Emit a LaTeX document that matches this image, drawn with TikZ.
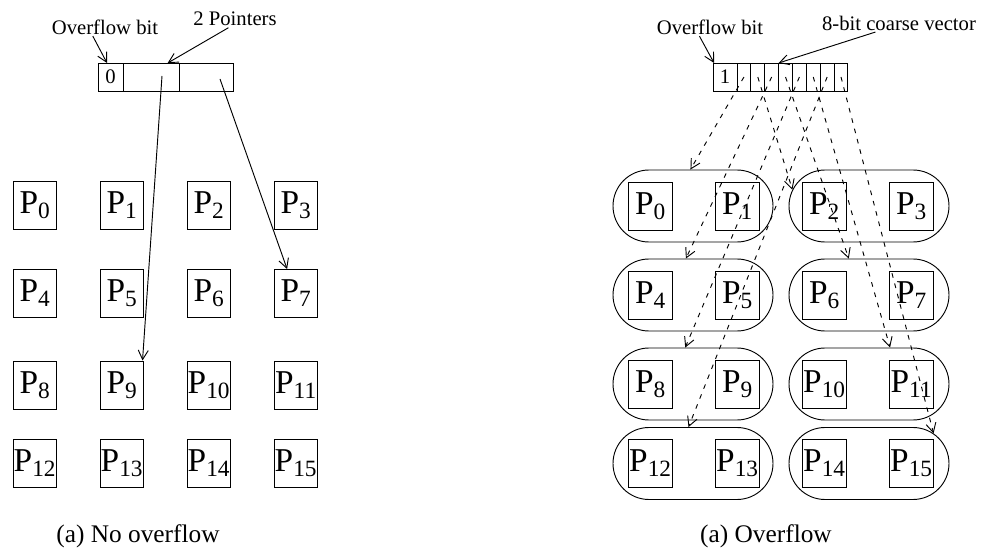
\documentclass[tikz,border=0pt]{standalone}
\usepackage{fontspec}
\setmainfont{Liberation Serif}
\usetikzlibrary{positioning,shapes.misc,arrows.meta}

\begin{document}
\begin{tikzpicture}[x=0.75pt,y=-0.75pt,line width=0.7pt,
  proc/.style={draw, inner sep=0pt, minimum width=32.5pt, minimum height=36pt, font=\fontsize{25}{28}\selectfont},
  grp/.style={draw, rounded rectangle, minimum width=120pt, minimum height=54pt, inner sep=0pt},
  cell/.style={draw, inner sep=0pt, outer sep=0pt, minimum height=21pt, font=\fontsize{15.5}{18}\selectfont},
  lbl/.style={font=\fontsize{15.5}{18}\selectfont, inner sep=1pt},
  captxt/.style={font=\fontsize{19}{22}\selectfont, inner sep=1pt},
  ptr/.style={-{Straight Barb[length=7pt,width=7.5pt]}},
  vecptr/.style={ptr, dash pattern=on 3.5pt off 4.5pt}]
\useasboundingbox (0,0) rectangle (986,552);
% left: no overflow
\node[lbl] (lof) at (105,27) {Overflow bit};
\node[lbl] (lpt) at (235,19) {2 Pointers};
\node[cell, minimum width=18.75pt] (o0) at (110.5,77) {0};
\node[cell, minimum width=42pt, right=0pt of o0] (o1) {};
\node[cell, minimum width=40.5pt, right=0pt of o1] (o2) {};
\node[proc] (p0) at (35,205) {P\textsubscript{0}};
\node[proc] (p1) at (122,205) {P\textsubscript{1}};
\node[proc] (p2) at (209,205) {P\textsubscript{2}};
\node[proc] (p3) at (296,205) {P\textsubscript{3}};
\node[proc] (p4) at (35,293.5) {P\textsubscript{4}};
\node[proc] (p5) at (122,293.5) {P\textsubscript{5}};
\node[proc] (p6) at (209,293.5) {P\textsubscript{6}};
\node[proc] (p7) at (296,293.5) {P\textsubscript{7}};
\node[proc] (p8) at (35,385) {P\textsubscript{8}};
\node[proc] (p9) at (122,385) {P\textsubscript{9}};
\node[proc] (p10) at (209,385) {P\textsubscript{10}};
\node[proc] (p11) at (296,385) {P\textsubscript{11}};
\node[proc] (p12) at (35,463) {P\textsubscript{12}};
\node[proc] (p13) at (122,463) {P\textsubscript{13}};
\node[proc] (p14) at (209,463) {P\textsubscript{14}};
\node[proc] (p15) at (296,463) {P\textsubscript{15}};
\coordinate (a1) at (162,76);
\coordinate (a2) at (220,79);
\draw[ptr] (lof.-143) -- (o0.104);
\draw[ptr] (lpt.-127) -- (o1.40);
\draw[ptr] (a1) -- (p9.50);
\draw[ptr] (a2) -- (p7.110);
\node[captxt] (capl) at (138,536) {(a) No overflow};
% right: overflow, coarse vector
\node[lbl] (rof) at (710,27) {Overflow bit};
\node[lbl] (rcv) at (899,23) {8-bit coarse vector};
\node[cell, minimum width=18pt] (r0) at (725,77) {1};
\node[cell, minimum width=10.4pt, right=0pt of r0] (v1) {};
\node[cell, minimum width=10.4pt, right=0pt of v1] (v2) {};
\node[cell, minimum width=10.4pt, right=0pt of v2] (v3) {};
\node[cell, minimum width=10.4pt, right=0pt of v3] (v4) {};
\node[cell, minimum width=10.4pt, right=0pt of v4] (v5) {};
\node[cell, minimum width=10.4pt, right=0pt of v5] (v6) {};
\node[cell, minimum width=10.4pt, right=0pt of v6] (v7) {};
\node[cell, minimum width=10.4pt, right=0pt of v7] (v8) {};
\node[grp] (g0) at (693,206) {};
\node[grp] (g1) at (869,206) {};
\node[grp] (g2) at (693,295) {};
\node[grp] (g3) at (869,295) {};
\node[grp] (g4) at (693,384) {};
\node[grp] (g5) at (869,384) {};
\node[grp] (g6) at (693,463.5) {};
\node[grp] (g7) at (869,463.5) {};
\node[proc] (q0) at (650.5,206) {P\textsubscript{0}};
\node[proc] (q1) at (737.5,206) {P\textsubscript{1}};
\node[proc] (q2) at (824.5,206) {P\textsubscript{2}};
\node[proc] (q3) at (911.5,206) {P\textsubscript{3}};
\node[proc] (q4) at (650.5,295) {P\textsubscript{4}};
\node[proc] (q5) at (737.5,295) {P\textsubscript{5}};
\node[proc] (q6) at (824.5,295) {P\textsubscript{6}};
\node[proc] (q7) at (911.5,295) {P\textsubscript{7}};
\node[proc] (q8) at (650.5,384) {P\textsubscript{8}};
\node[proc] (q9) at (737.5,384) {P\textsubscript{9}};
\node[proc] (q10) at (824.5,384) {P\textsubscript{10}};
\node[proc] (q11) at (911.5,384) {P\textsubscript{11}};
\node[proc] (q12) at (650.5,463.5) {P\textsubscript{12}};
\node[proc] (q13) at (737.5,463.5) {P\textsubscript{13}};
\node[proc] (q14) at (824.5,463.5) {P\textsubscript{14}};
\node[proc] (q15) at (911.5,463.5) {P\textsubscript{15}};
\draw[ptr] (rof.-139) -- (r0.128);
\draw[ptr] (rcv.-159) -- (v4.north west);
\draw[vecptr] (v1.center) -- (g0.94);
\draw[vecptr] (v2.center) -- (g1.168);
\draw[vecptr] (v3.center) -- (g2.101);
\draw[vecptr] (v4.center) -- (g3.119);
\draw[vecptr] (v5.center) -- (g4.102);
\draw[vecptr] (v6.center) -- (g5.60);
\draw[vecptr] (v7.center) -- (g6.97);
\draw[vecptr] (v8.center) -- (g7.25);
\node[captxt] (capr) at (766,536) {(a) Overflow};
\end{tikzpicture}
\end{document}
